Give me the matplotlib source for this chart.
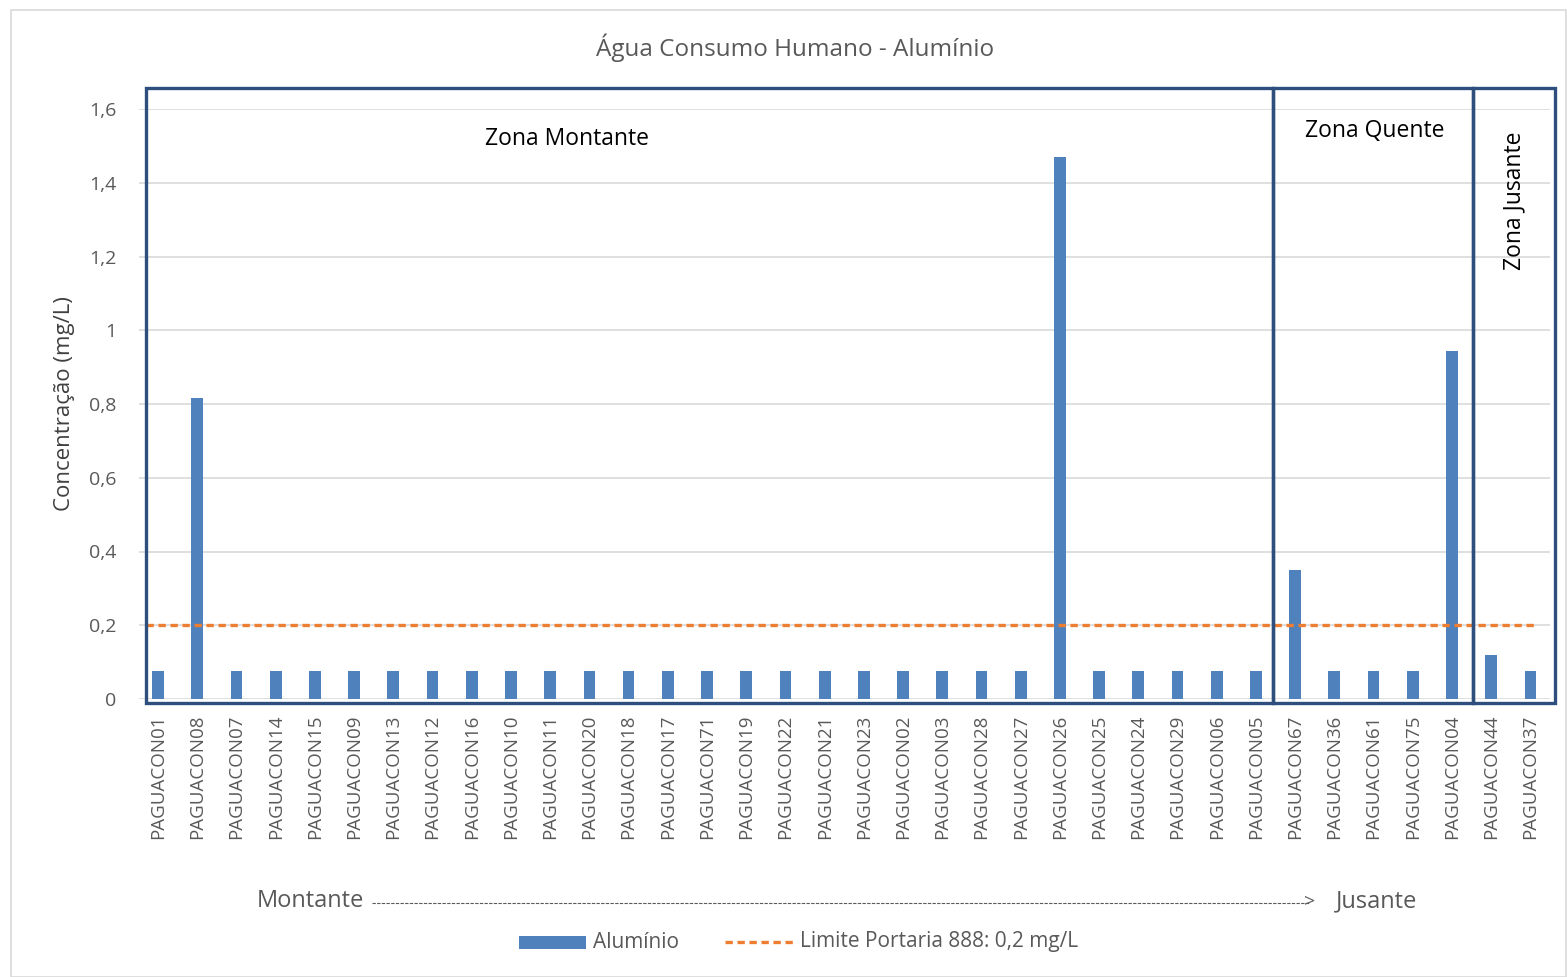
import matplotlib
matplotlib.use("Agg")
import matplotlib.pyplot as plt
from matplotlib.patches import Rectangle
from matplotlib.lines import Line2D

plt.rcParams['font.family'] = ['Open Sans', 'DejaVu Sans']

stations = ["PAGUACON01", "PAGUACON08", "PAGUACON07", "PAGUACON14", "PAGUACON15",
            "PAGUACON09", "PAGUACON13", "PAGUACON12", "PAGUACON16", "PAGUACON10",
            "PAGUACON11", "PAGUACON20", "PAGUACON18", "PAGUACON17", "PAGUACON71",
            "PAGUACON19", "PAGUACON22", "PAGUACON21", "PAGUACON23", "PAGUACON02",
            "PAGUACON03", "PAGUACON28", "PAGUACON27", "PAGUACON26", "PAGUACON25",
            "PAGUACON24", "PAGUACON29", "PAGUACON06", "PAGUACON05", "PAGUACON67",
            "PAGUACON36", "PAGUACON61", "PAGUACON75", "PAGUACON04", "PAGUACON44",
            "PAGUACON37"]
aluminio = [0.075, 0.815, 0.075, 0.075, 0.075, 0.075, 0.075, 0.075, 0.075, 0.075,
            0.075, 0.075, 0.075, 0.075, 0.075, 0.075, 0.075, 0.075, 0.075, 0.075,
            0.075, 0.075, 0.075, 1.47, 0.075, 0.075, 0.075, 0.075, 0.075, 0.35,
            0.075, 0.075, 0.075, 0.945, 0.12, 0.075]
limite = 0.2
yticks = [0, 0.2, 0.4, 0.6, 0.8, 1.0, 1.2, 1.4, 1.6]
ytick_labels = ["0", "0,2", "0,4", "0,6", "0,8", "1", "1,2", "1,4", "1,6"]

W, H = 1567, 977
fig = plt.figure(figsize=(W / 100, H / 100), dpi=100)
ax = fig.add_axes([138.5 / W, 1 - 699 / H, (1550 - 138.5) / W, (699 - 109) / H])

x = list(range(len(stations)))
bar_color = "#4F81BD"
ax.bar(x, aluminio, width=0.3, color=bar_color, zorder=3)
ax.plot([-0.31, 35.1], [limite, limite], color="#ED7D31", lw=2.4,
        linestyle=(0, (2.2, 1.4)), zorder=4)

ax.set_xlim(-0.5, len(stations) - 0.5)
ax.set_ylim(0, 1.6)
ax.set_yticks(yticks)
ax.set_yticklabels(ytick_labels, fontsize=14, color="#595959")
ax.set_xticks(x)
ax.set_xticklabels(stations, rotation=90, fontsize=13.5, color="#595959")
ax.tick_params(axis='both', length=0)
ax.tick_params(axis='y', pad=16)
ax.tick_params(axis='x', pad=11)
ax.grid(axis='y', color="#D9D9D9", lw=1.2, zorder=0)
for s in ax.spines.values():
    s.set_visible(False)
ax.set_ylabel("Concentração (mg/L)", fontsize=16, color="#404040", labelpad=10)

# figure border
fig.add_artist(Rectangle((11 / W, 0), (W - 12) / W, 1 - 10 / H, transform=fig.transFigure,
                         fill=False, edgecolor="#D9D9D9", lw=1.2))

# zone rectangles
zc = "#2E4F7E"
def frect(x0, x1, y0, y1):
    fig.add_artist(Rectangle((x0 / W, 1 - y1 / H), (x1 - x0) / W, (y1 - y0) / H,
                             transform=fig.transFigure, fill=False, edgecolor=zc,
                             lw=2.4, zorder=10))
frect(146, 1273, 88, 703)
frect(1273, 1473, 88, 703)
frect(1473, 1555, 88, 703)

fig.text(567 / W, 1 - 139 / H, "Zona Montante", ha="center", va="center", fontsize=16.5, color="black")
fig.text(1375 / W, 1 - 131 / H, "Zona Quente", ha="center", va="center", fontsize=16.5, color="black")
fig.text(1514 / W, 1 - 201 / H, "Zona Jusante", ha="center", va="center", fontsize=16.5,
         color="black", rotation=90)

fig.text(795 / W, 1 - 48 / H, "Água Consumo Humano - Alumínio", ha="center", va="center",
         fontsize=17.5, color="#595959")

# Montante ---> Jusante
fig.text(257 / W, 1 - 901 / H, "Montante", ha="left", va="center", fontsize=17, color="#595959")
fig.add_artist(Line2D([372 / W, 1310 / W], [1 - 903 / H, 1 - 903 / H], transform=fig.transFigure,
                      color="#595959", lw=0.8, linestyle=(0, (3, 1.2))))
fig.text(1304 / W, 1 - 901 / H, ">", ha="left", va="center", fontsize=14, color="#595959")
fig.text(1336 / W, 1 - 901 / H, "Jusante", ha="left", va="center", fontsize=17, color="#595959")

# legend
fig.add_artist(Rectangle((519 / W, 1 - 949 / H), 67 / W, 13 / H, transform=fig.transFigure,
                         facecolor=bar_color, edgecolor="none"))
fig.text(593 / W, 1 - 942 / H, "Alumínio", ha="left", va="center", fontsize=15, color="#595959")
fig.add_artist(Line2D([725 / W, 795 / W], [1 - 942 / H, 1 - 942 / H], transform=fig.transFigure,
                      color="#ED7D31", lw=2.4, linestyle=(0, (2.2, 1.4))))
fig.text(800 / W, 1 - 942 / H, "Limite Portaria 888: 0,2 mg/L", ha="left", va="center",
         fontsize=15, color="#595959")

fig.savefig("out.png", dpi=100)
